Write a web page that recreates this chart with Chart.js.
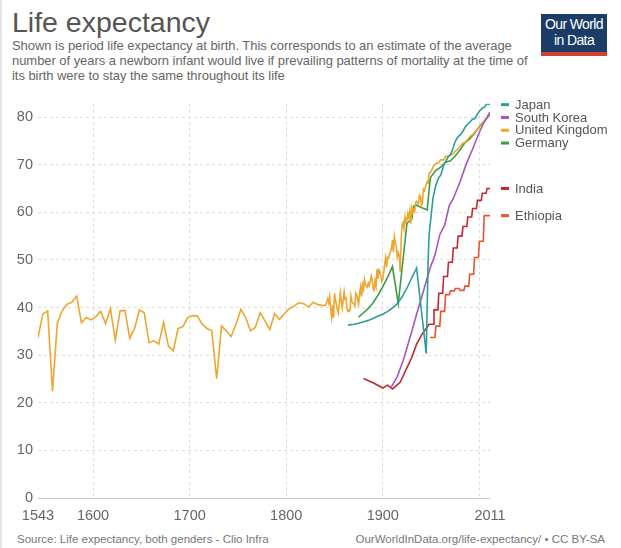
<!DOCTYPE html>
<html>
<head>
<meta charset="utf-8">
<script src="https://cdn.jsdelivr.net/npm/chart.js@4.4.0/dist/chart.umd.min.js"></script>
<style>
  body { margin: 0; background: #fff; font-family: "Liberation Sans", Arial, sans-serif; }
  #page { position: relative; width: 621px; height: 548px; overflow: hidden; }
  #edge { position: absolute; left: 0; top: 0; width: 2px; height: 548px; background: #e2e2e2; }
  #title { position: absolute; left: 12px; top: 6px; font-size: 28.5px; color: #555; white-space: nowrap; }
  #subtitle { position: absolute; left: 12px; top: 38px; font-size: 13px; line-height: 15px; color: #666; white-space: nowrap; letter-spacing: -0.05px; }
  #logo { position: absolute; left: 541px; top: 14px; width: 66px; height: 36px; background: #1b3c66; border-bottom: 4px solid #d5412c;
          color: #fff; text-align: center; font-size: 14px; line-height: 16px; letter-spacing: -0.6px; padding-top: 2px; box-sizing: content-box; }
  #chartBox { position: absolute; left: 0; top: 90px; width: 621px; height: 432px; }
  #srcL { position: absolute; left: 17px; top: 533px; font-size: 11.5px; color: #777; white-space: nowrap; }
  #srcR { position: absolute; right: 16px; top: 533px; font-size: 11.5px; color: #777; white-space: nowrap; }
</style>
</head>
<body>
<div id="page">
  <div id="edge"></div>
  <div id="title">Life expectancy</div>
  <div id="subtitle">Shown is period life expectancy at birth. This corresponds to an estimate of the average<br>number of years a newborn infant would live if prevailing patterns of mortality at the time of<br>its birth were to stay the same throughout its life</div>
  <div id="logo">Our World<br>in Data</div>
  <div id="chartBox"><canvas id="lifeChart"></canvas></div>
  <div id="srcL">Source: Life expectancy, both genders - Clio Infra</div>
  <div id="srcR">OurWorldInData.org/life-expectancy/ • CC BY-SA</div>
</div>
<script>
// United Kingdom: 5-yearly estimates 1543-1838, then yearly 1841-1950, then sparser
const ukEarlyStart = 1543;
const ukEarly = [33.7, 38.6, 39.3, 22.4, 36.7, 39.3, 40.7, 41.1, 42.4, 36.8,
  37.9, 37.4, 38.1, 39.2, 36.6, 39.8, 33.1, 39.3, 39.4, 33.5,
  35.6, 39.5, 38.9, 32.6, 33.0, 32.3, 36.9, 31.9, 30.9, 35.6,
  36.0, 37.9, 38.3, 38.2, 36.5, 35.6, 35.1, 25.0, 36.1, 35.1,
  33.9, 36.5, 39.6, 37.9, 35.1, 35.8, 38.9, 37.2, 35.4, 38.7,
  37.5, 38.7, 39.7, 40.3, 41.0, 40.8, 40.1, 41.1, 40.6, 40.4];
const ukAnnualStart = 1841;
const ukAnnual = [40.5, 41.2, 41.8, 41.0, 42.3, 39.7, 38.0, 40.4, 37.8, 43.0,
  41.5, 40.7, 39.4, 38.8, 40.8, 43.1, 41.4, 39.9, 41.4, 43.3,
  41.8, 42.0, 39.6, 39.2, 39.5, 39.4, 42.4, 41.2, 40.9, 40.8,
  40.3, 43.0, 42.6, 41.6, 40.7, 43.0, 44.3, 42.3, 44.8, 43.9,
  45.9, 44.8, 44.6, 44.3, 45.1, 44.6, 45.4, 46.6, 45.9, 43.9,
  43.6, 45.6, 44.5, 48.0, 46.0, 47.9, 47.6, 46.6, 45.5, 46.0,
  47.4, 49.3, 50.5, 48.4, 50.5, 50.4, 51.2, 51.7, 52.4, 54.2,
  51.6, 54.9, 53.5, 53.0, 50.6, 51.5, 51.0, 47.5, 53.9, 57.4,
  57.9, 56.6, 59.0, 58.0, 58.4, 59.8, 58.9, 60.3, 57.6, 60.9,
  60.0, 60.6, 60.2, 62.1, 62.3, 61.9, 61.8, 63.6, 63.3, 61.4,
  62.0, 64.8, 64.5, 65.2, 65.8, 66.4, 66.2, 68.3, 68.3, 68.6];
const ukLateYears = [1953, 1955, 1958, 1960, 1963, 1965, 1968, 1970, 1973, 1975, 1978, 1980,
  1983, 1985, 1988, 1990, 1993, 1995, 1998, 2000, 2003, 2005, 2008, 2011];
const ukLate = [69.9, 70.2, 70.4, 71.0, 71.0, 71.7, 71.8, 72.0, 72.3, 72.8, 73.3, 73.8,
  74.5, 74.7, 75.3, 75.9, 76.3, 76.8, 77.4, 77.9, 78.4, 79.2, 79.9, 81.0];

const japanYears = [1864, 1870, 1875, 1880, 1885, 1890, 1895, 1900, 1905, 1910, 1914, 1920, 1925, 1930, 1935,
  1945, 1947, 1948, 1950, 1952, 1955, 1958, 1960, 1963, 1965, 1968, 1970, 1973, 1975, 1978,
  1980, 1983, 1985, 1988, 1990, 1993, 1995, 1998, 2000, 2003, 2005, 2007, 2009, 2011];
const japanValues = [36.3, 36.5, 36.7, 37.0, 37.3, 37.7, 38.2, 38.6, 39.2, 39.9, 40.6, 42.2, 44.1, 46.2, 48.3,
  30.3, 50.5, 55.5, 59.2, 63.0, 65.8, 67.3, 67.8, 69.8, 70.6, 71.8, 72.0, 73.6, 74.9, 75.9,
  76.2, 77.0, 77.8, 78.6, 78.9, 79.6, 79.6, 80.6, 81.2, 81.9, 82.0, 82.6, 82.8, 82.6];

const koreaYears = [1908, 1915, 1921, 1925, 1930, 1935, 1940, 1945, 1949, 1954,
  1959, 1964, 1969, 1973, 1980, 1986, 1993, 2000, 2005, 2011];
const koreaValues = [23.0, 25.5, 28.8, 31.5, 35.0, 38.6, 42.0, 45.5, 48.3, 51.0,
  55.3, 57.3, 61.5, 62.9, 66.4, 69.9, 73.3, 76.8, 78.9, 81.0];

const germanyYears = [1875, 1880, 1885, 1890, 1895, 1900, 1905, 1910, 1916, 1925, 1926, 1930, 1932, 1935, 1940,
  1946, 1949, 1950, 1955, 1960, 1965, 1970, 1975, 1980, 1985, 1990, 1995, 2000, 2005, 2011];
const germanyValues = [38.0, 38.9, 39.8, 41.0, 42.6, 44.4, 46.4, 48.6, 40.8, 57.6, 57.9, 58.5, 61.3, 61.5, 61.0,
  60.5, 67.0, 67.5, 68.8, 69.5, 70.5, 70.8, 71.8, 73.1, 74.6, 75.4, 76.6, 78.0, 79.1, 80.5];

const indiaYears = [1880, 1890, 1900, 1905, 1910, 1918, 1924, 1930, 1935, 1941, 1948, 1952, 1953, 1957, 1958,
  1962, 1963, 1967, 1968, 1972, 1973, 1977, 1978, 1982, 1983, 1987, 1988, 1992, 1993, 1997,
  1998, 2002, 2003, 2007, 2008, 2011];
const indiaValues = [25.1, 24.2, 23.1, 23.7, 22.9, 24.3, 26.9, 29.5, 32.3, 34.5, 36.5, 36.5, 39.5, 39.5, 43.0,
  43.0, 46.5, 46.5, 49.5, 49.5, 52.5, 52.5, 55.0, 55.0, 57.0, 57.0, 59.0, 59.0, 60.8, 60.8,
  62.5, 62.5, 64.0, 64.0, 65.0, 65.0];

const ethiopiaYears = [1949, 1954, 1955, 1959, 1960, 1964, 1965, 1969, 1970, 1974, 1975, 1979,
  1980, 1984, 1985, 1989, 1990, 1994, 1995, 1999, 2000, 2004, 2005, 2011];
const ethiopiaValues = [33.7, 33.7, 36.1, 36.1, 39.2, 39.2, 42.7, 42.7, 43.5, 43.5, 44.0, 44.0,
  43.6, 43.6, 44.5, 44.5, 47.0, 47.0, 50.5, 50.5, 53.9, 53.9, 59.3, 59.3];

const xTicks = [1543, 1600, 1700, 1800, 1900, 2000, 2011];
const yTicks = [0, 10, 20, 30, 40, 50, 60, 70, 80];

function pairs(years, values) {
  return years.map((yr, i) => ({ x: yr, y: values[i] }));
}

let ukPoints = [];
ukEarly.forEach((v, i) => ukPoints.push({ x: ukEarlyStart + i * 5, y: v }));
ukAnnual.forEach((v, i) => ukPoints.push({ x: ukAnnualStart + i, y: v }));
ukPoints = ukPoints.concat(pairs(ukLateYears, ukLate));

const FONT = "'Liberation Sans', Arial, sans-serif";

function line(label, data, color) {
  return { label: label, data: data, borderColor: color, backgroundColor: color,
    borderWidth: 1.6, pointRadius: 0, tension: 0, fill: false };
}

// labels at the end of each line, pushed apart when they overlap
const endLabels = {
  id: "endLabels",
  afterDatasetsDraw(chart) {
    const { ctx, chartArea, scales } = chart;
    let prevY = -Infinity;
    ctx.save();
    ctx.font = "13px " + FONT;
    ctx.textBaseline = "middle";
    chart.data.datasets.forEach((ds) => {
      const last = ds.data[ds.data.length - 1];
      let y = scales.y.getPixelForValue(last.y);
      if (y < prevY + 12.8) y = prevY + 12.8;
      prevY = y;
      ctx.strokeStyle = ds.borderColor;
      ctx.lineWidth = 3;
      ctx.beginPath();
      ctx.moveTo(chartArea.right + 11, y);
      ctx.lineTo(chartArea.right + 19, y);
      ctx.stroke();
      ctx.fillStyle = "#555";
      ctx.fillText(ds.label, chartArea.right + 25, y + 0.5);
    });
    ctx.restore();
  },
};

let ctx = document.querySelector("#lifeChart");
let graph = new Chart(ctx, {
  type: "line",
  data: {
    datasets: [
      line("Japan", pairs(japanYears, japanValues), "#2b9e98"),
      line("South Korea", pairs(koreaYears, koreaValues), "#a556bd"),
      line("United Kingdom", ukPoints, "#eea630"),
      line("Germany", pairs(germanyYears, germanyValues), "#3b9c43"),
      line("India", pairs(indiaYears, indiaValues), "#c3282e"),
      line("Ethiopia", pairs(ethiopiaYears, ethiopiaValues), "#e8542c"),
    ],
  },
  options: {
    responsive: true,
    maintainAspectRatio: false,
    animation: false,
    layout: { padding: { top: 12, right: 131, left: 0, bottom: 0 } },
    plugins: { legend: { display: false }, tooltip: { enabled: false } },
    scales: {
      x: {
        type: "linear",
        min: 1543,
        max: 2011,
        afterBuildTicks: (scale) => { scale.ticks = xTicks.map((v) => ({ value: v })); },
        afterFit: (scale) => { scale.height = 24; },
        ticks: {
          autoSkip: false,
          maxRotation: 0,
          padding: 9,
          color: "#666",
          font: { family: FONT, size: 14.5 },
          callback: (v) => (v === 2000 ? "" : String(v)),
        },
        grid: {
          drawTicks: false,
          color: (c) => (c.tick && (c.tick.value === 1543 || c.tick.value === 2011) ? "rgba(0,0,0,0)" : "#dcdcdc"),
          lineWidth: 1,
        },
        border: { display: false, dash: [3, 3] },
      },
      y: {
        min: 0,
        max: 82.8,
        afterBuildTicks: (scale) => { scale.ticks = yTicks.map((v) => ({ value: v })); },
        afterFit: (scale) => { scale.width = 38; },
        ticks: {
          padding: 5,
          color: "#666",
          font: { family: FONT, size: 14.5 },
        },
        grid: {
          drawTicks: false,
          color: (c) => (c.tick && c.tick.value === 0 ? "#c8c8c8" : "#dcdcdc"),
          lineWidth: 1,
        },
        border: { display: false, dash: (c) => (c.tick && c.tick.value === 0 ? [] : [3, 3]) },
      },
    },
  },
  plugins: [endLabels],
});
</script>
</body>
</html>
